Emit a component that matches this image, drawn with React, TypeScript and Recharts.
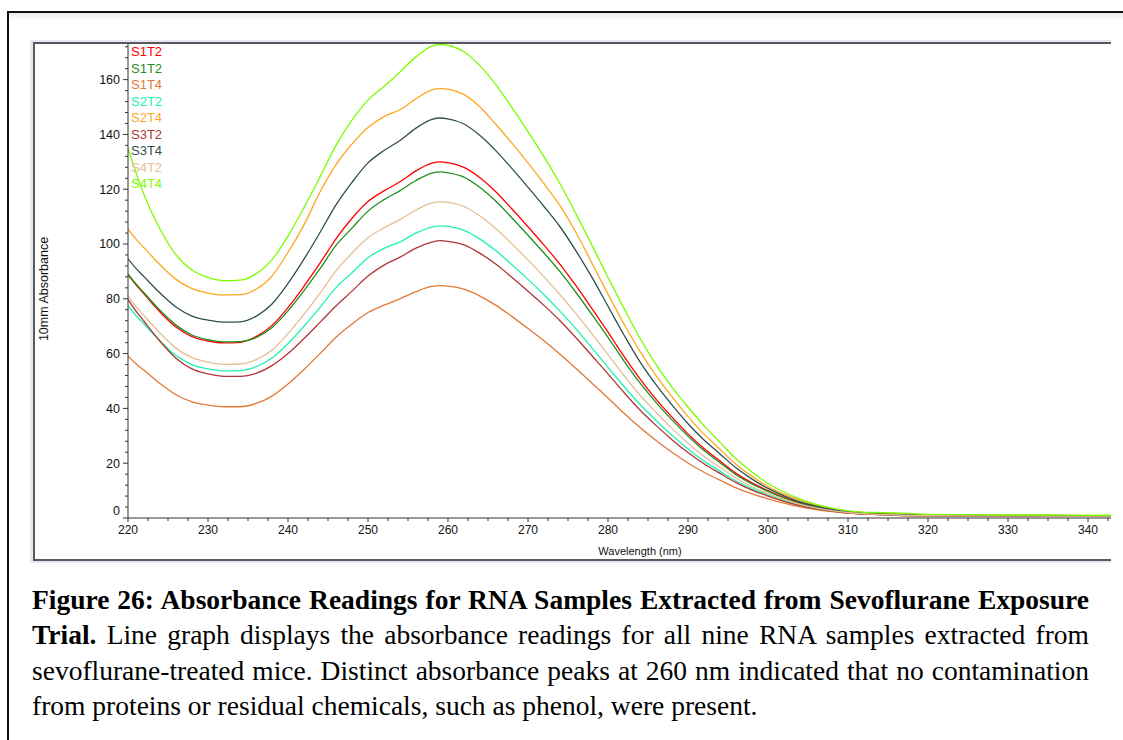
import React from 'react'
import { LineChart, Line, XAxis, YAxis } from 'recharts'

// wavelength (nm) sample points
const wavelengths = [
  220, 221, 222, 224, 226, 228, 230, 232, 234, 236, 238, 240, 242, 244, 246, 248, 250, 252, 254, 256, 258, 259,
  260, 262, 264, 266, 268, 270, 272, 274, 276, 278, 280, 282, 284, 286, 288, 290, 292, 294, 296, 298, 300, 302,
  304, 306, 308, 310, 313, 316, 320, 325, 330, 335, 340, 343,
]

// absorbance readings, one list per sample
const s1t2Red = [
  88.8, 85.1, 81.8, 75.2, 69.7, 66.2, 64.6, 63.9, 64.1, 66.2, 70.3, 76.8, 84.6, 93, 101.9, 109.4, 115.5, 119.4, 122.7, 126.7, 129.5, 130,
  129.7, 128, 124.2, 119, 112.8, 106.3, 99.6, 92.6, 84.8, 76.4, 67.8, 59, 50.8, 43.4, 36.8, 30.7, 25.4, 20.8, 16.3, 12.8, 10, 7.5,
  5.5, 4, 2.9, 2.1, 1.5, 1.2, 0.9, 0.6, 0.6, 0.6, 0.7, 0.6,
]
const s1t2Green = [
  89, 85.4, 82.2, 75.8, 70.4, 66.8, 65.1, 64.3, 64.4, 65.8, 69.5, 75.6, 83, 91, 99.5, 105.8, 112, 116.2, 119.5, 123.2, 125.9, 126.3,
  126, 124.4, 120.6, 115.6, 109.5, 103.2, 96.7, 89.9, 82.3, 74.2, 65.9, 57.3, 49.3, 42.2, 35.8, 29.9, 24.6, 20.2, 15.8, 12.4, 9.7, 7.3,
  5.3, 3.9, 2.8, 2, 1.4, 1.1, 0.9, 0.8, 0.7, 0.7, 0.7, 0.7,
]
const s1t4 = [
  59.1, 56.3, 53.9, 49.1, 45, 42.4, 41.2, 40.6, 40.6, 41.8, 44.5, 48.9, 54.2, 60, 66, 70.8, 75, 77.7, 80, 82.6, 84.5, 84.8,
  84.6, 83.5, 81, 77.6, 73.5, 69.2, 64.7, 59.8, 54.6, 49.2, 43.8, 38.2, 33, 28.3, 24, 20.1, 16.7, 13.8, 11, 8.8, 7, 5.4,
  4.1, 3.1, 2.3, 1.8, 1.3, 1, 0.8, 0.7, 0.6, 0.6, 0.6, 0.6,
]
const s2t2 = [
  77.5, 73.9, 70.8, 64.6, 59.3, 56, 54.4, 53.7, 53.8, 55.2, 58.4, 63.7, 70, 76.9, 84.1, 89.5, 95, 98.4, 100.8, 104, 106.2, 106.6,
  106.4, 105, 101.8, 97.5, 92.4, 87.1, 81.5, 75.5, 69, 62, 55, 48, 41.4, 35.6, 30.2, 25.2, 20.8, 17.1, 13.5, 10.7, 8.4, 6.4,
  4.7, 3.5, 2.6, 1.9, 1.4, 1.1, 0.9, 0.8, 0.8, 0.7, 0.7, 0.7,
]
const s2t4 = [
  105.4, 101.8, 98.7, 92.4, 87.1, 83.7, 82.1, 81.4, 81.5, 83.5, 88.3, 97, 107, 119, 129, 136.5, 142.5, 146.5, 149, 153, 156.3, 156.7,
  156.5, 154.5, 150, 143.6, 136.8, 129.6, 122, 114, 104.2, 93, 81.7, 70.8, 60.8, 52, 44.3, 37, 30.6, 25.1, 19.6, 15.2, 11.5, 8.7,
  6.4, 4.7, 3.4, 2.5, 1.8, 1.4, 1.2, 1.1, 1, 1, 0.9, 0.9,
]
const s3t2 = [
  79.7, 75.5, 71.8, 64.5, 58.3, 54.4, 52.6, 51.7, 51.7, 52.8, 55.6, 60, 65.5, 71.4, 77.4, 82.8, 88.3, 92.3, 95.2, 98.5, 100.7, 101.2,
  101, 99.7, 96.6, 92.6, 87.8, 82.8, 77.6, 72, 65.8, 59.2, 52.6, 45.8, 39.4, 33.8, 28.6, 23.9, 19.8, 16.3, 12.9, 10.2, 8, 6.1,
  4.5, 3.4, 2.5, 1.8, 1.3, 1, 0.8, 0.7, 0.7, 0.6, 0.6, 0.6,
]
const s3t4 = [
  94.6, 91.1, 88.1, 82.1, 77, 73.7, 72.2, 71.5, 71.6, 73.6, 78.1, 85.6, 94.5, 104.2, 114.3, 122.5, 129.6, 134.1, 137.8, 142.3, 145.5, 146,
  145.7, 143.8, 139.6, 134, 127.5, 120.7, 113.7, 106.3, 97.5, 87.8, 77.3, 66.8, 57, 48.7, 41.3, 34.4, 28.5, 23.4, 18.3, 14.2, 10.8, 8.1,
  5.9, 4.3, 3.1, 2.3, 1.7, 1.3, 1.1, 1, 0.9, 0.9, 0.8, 0.8,
]
const s4t2 = [
  80.9, 77.2, 73.9, 67.5, 62, 58.5, 56.9, 56.1, 56.2, 57.8, 61.3, 67.3, 74.4, 82.1, 90.2, 96.7, 102.3, 105.9, 108.9, 112.4, 115, 115.4,
  115.2, 113.7, 110.2, 105.6, 100, 94.2, 88, 81.5, 74.6, 67.2, 59.6, 52, 44.8, 38.6, 32.7, 27.3, 22.5, 18.5, 14.5, 11.4, 8.9, 6.8,
  5, 3.7, 2.7, 2, 1.4, 1.1, 0.9, 0.8, 0.8, 0.7, 0.7, 0.7,
]
const s4t4 = [
  135, 126, 118, 105.5, 96, 90.5, 87.8, 86.6, 86.8, 89.1, 94.3, 102.9, 113.3, 124.5, 136, 145.2, 152.5, 157.5, 162.8, 168.3, 172.2, 172.8,
  172.5, 170.2, 165, 158.1, 149.8, 141, 131.8, 122, 111, 99.5, 87.8, 76.5, 65.6, 56, 47.8, 40.5, 33.7, 27.6, 21.6, 16.8, 12.6, 9.5,
  6.9, 5, 3.6, 2.6, 2, 1.9, 1.3, 1.2, 1.1, 1.1, 1, 1,
]

const series = [
  { key: 's1t2a', name: 'S1T2', color: '#ff0000', values: s1t2Red },
  { key: 's1t2b', name: 'S1T2', color: '#1f8f1f', values: s1t2Green },
  { key: 's1t4', name: 'S1T4', color: '#e07a34', values: s1t4 },
  { key: 's2t2', name: 'S2T2', color: '#20f2b2', values: s2t2 },
  { key: 's2t4', name: 'S2T4', color: '#ffa61e', values: s2t4 },
  { key: 's3t2', name: 'S3T2', color: '#b03636', values: s3t2 },
  { key: 's3t4', name: 'S3T4', color: '#2f4f4f', values: s3t4 },
  { key: 's4t2', name: 'S4T2', color: '#e4bf93', values: s4t2 },
  { key: 's4t4', name: 'S4T4', color: '#7cfc00', values: s4t4 },
]

const xMajorTicks = [220, 230, 240, 250, 260, 270, 280, 290, 300, 310, 320, 330, 340]
const yMajorTicks = [0, 20, 40, 60, 80, 100, 120, 140, 160]

const xTicks: number[] = []
for (let v = 220; v <= 342.5; v += 2.5) xTicks.push(v)
const yTicks: number[] = []
for (let v = 0; v <= 172; v += 4) yTicks.push(v)

const chartData = wavelengths.map((nm, i) => {
  const row: any = { nm }
  series.forEach((s) => {
    row[s.key] = s.values[i]
  })
  return row
})

const SANS = '"Liberation Sans", Arial, sans-serif'

const XTick = (props: any) => {
  const { x, y, payload } = props
  const major = xMajorTicks.includes(payload.value)
  return (
    <g>
      <line x1={x} x2={x} y1={y} y2={y + (major ? 4 : 3)} stroke="#333" />
      {major && (
        <text x={x} y={y + 16} textAnchor="middle" fontSize={12} fontFamily={SANS} fill="#111">
          {payload.value}
        </text>
      )}
    </g>
  )
}

const YTick = (props: any) => {
  const { x, y, payload } = props
  const major = yMajorTicks.includes(payload.value)
  return (
    <g>
      <line x1={x - (major ? 5 : 3)} x2={x} y1={y} y2={y} stroke="#333" />
      {major && (
        <text
          x={x - 8}
          y={payload.value === 0 ? y - 7 : y}
          dy="0.35em"
          textAnchor="end"
          fontSize={12.5}
          fontFamily={SANS}
          fill="#111"
        >
          {payload.value}
        </text>
      )}
    </g>
  )
}

const YLabel = () => (
  <text
    x={9}
    y={245}
    transform="rotate(-90 9 245)"
    textAnchor="middle"
    dominantBaseline="central"
    fontSize={12.5}
    fontFamily={SANS}
    fill="#111"
  >
    10mm Absorbance
  </text>
)

const XLabel = () => (
  <text x={605} y={507} textAnchor="middle" dominantBaseline="central" fontSize={11} fontFamily={SANS} fill="#111">
    Wavelength (nm)
  </text>
)

const captionLine = {
  fontFamily: '"Liberation Serif", "Times New Roman", serif',
  fontSize: 27.5,
  lineHeight: '35.3px',
  whiteSpace: 'nowrap' as const,
  color: '#000',
}

export default function App() {
  return (
    <div style={{ position: 'absolute', left: 0, top: 0, width: 1123, height: 740, overflow: 'hidden', background: '#fff' }}>
      {/* figure frame */}
      <div
        style={{
          position: 'absolute',
          left: 7,
          top: 11,
          width: 1140,
          height: 760,
          borderLeft: '2px solid #111',
          borderTop: '2px solid #111',
        }}
      />
      <div style={{ position: 'absolute', left: 9, top: 13, width: 1114, height: 8, background: 'linear-gradient(#ebebeb, #ffffff)' }} />

      {/* chart panel */}
      <div style={{ position: 'absolute', left: 30, top: 40, width: 1081, height: 523, background: '#e6e6f4' }} />
      <div style={{ position: 'absolute', left: 33, top: 42, width: 1078, height: 519, background: '#5a5a5a' }} />
      <div style={{ position: 'absolute', left: 35, top: 44, width: 1076, height: 515, background: '#fff', overflow: 'hidden' }}>
        <LineChart width={1077} height={515} data={chartData} margin={{ top: 0, right: 0, bottom: 0, left: 0 }}>
          <XAxis
            dataKey="nm"
            type="number"
            domain={[220, 343]}
            allowDataOverflow
            ticks={xTicks}
            interval={0}
            height={41}
            tickSize={0}
            tickMargin={0}
            tickLine={false}
            axisLine={{ stroke: '#333' }}
            tick={<XTick />}
            label={<XLabel />}
          />
          <YAxis
            type="number"
            domain={[0, 173]}
            allowDataOverflow
            ticks={yTicks}
            interval={0}
            width={93}
            tickSize={0}
            tickMargin={0}
            tickLine={false}
            axisLine={{ stroke: '#333' }}
            tick={<YTick />}
            label={<YLabel />}
          />
          {series.map((s) => (
            <Line
              key={s.key}
              type="monotone"
              dataKey={s.key}
              name={s.name}
              stroke={s.color}
              strokeWidth={1.3}
              dot={false}
              isAnimationActive={false}
            />
          ))}
        </LineChart>
      </div>

      {/* legend */}
      <div style={{ position: 'absolute', left: 131, top: 44, fontFamily: SANS, fontSize: 13, lineHeight: '16.5px' }}>
        {series.map((s) => (
          <div key={s.key} style={{ color: s.color }}>
            {s.name}
          </div>
        ))}
      </div>

      {/* caption */}
      <div style={{ position: 'absolute', left: 32, top: 582, width: 1057 }}>
        <div style={{ ...captionLine, textAlign: 'justify', textAlignLast: 'justify', fontWeight: 'bold' }}>
          Figure 26: Absorbance Readings for RNA Samples Extracted from Sevoflurane Exposure
        </div>
        <div style={{ ...captionLine, textAlign: 'justify', textAlignLast: 'justify' }}>
          <b>Trial.</b> Line graph displays the absorbance readings for all nine RNA samples extracted from
        </div>
        <div style={{ ...captionLine, textAlign: 'justify', textAlignLast: 'justify' }}>
          sevoflurane-treated mice. Distinct absorbance peaks at 260 nm indicated that no contamination
        </div>
        <div style={captionLine}>from proteins or residual chemicals, such as phenol, were present.</div>
      </div>
    </div>
  )
}
